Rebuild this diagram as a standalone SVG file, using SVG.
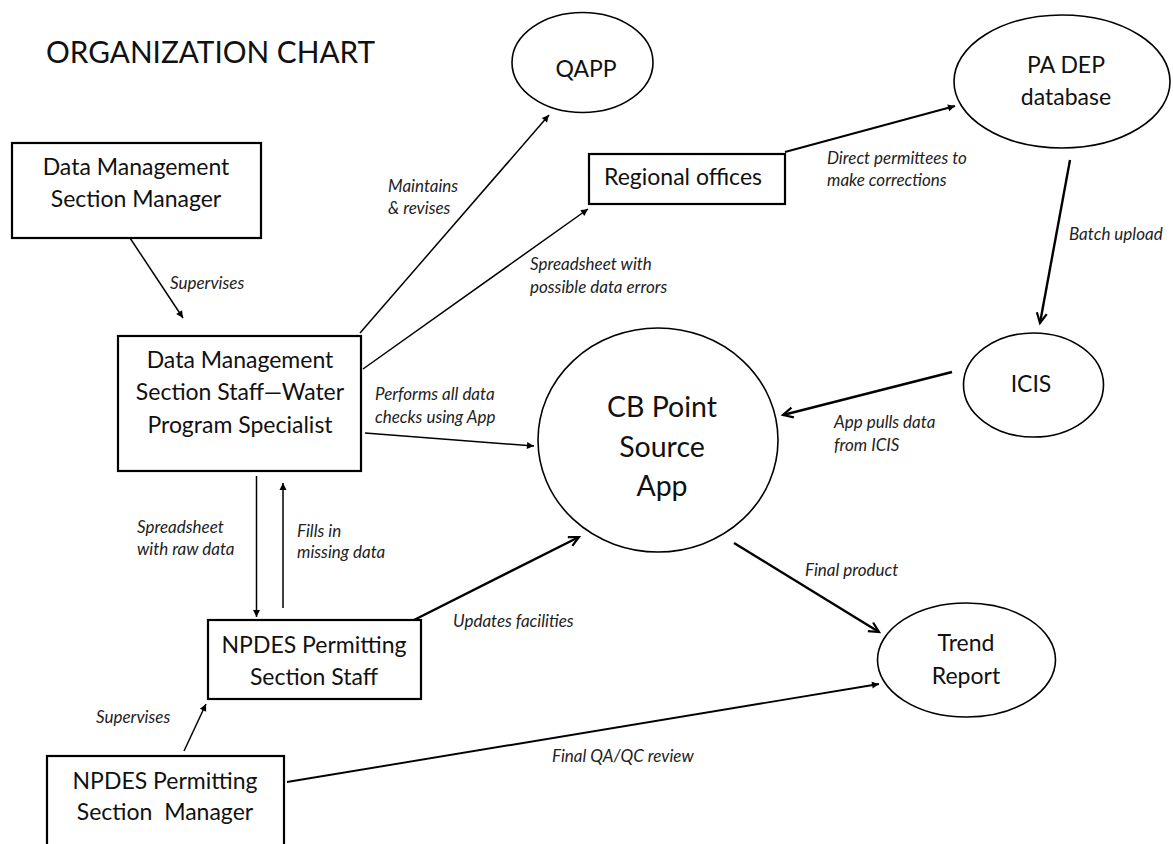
<svg xmlns="http://www.w3.org/2000/svg" width="1173" height="844" viewBox="0 0 1173 844">
<style>
  .bg { fill: #ffffff; }
  .box { fill: #ffffff; stroke: #000; stroke-width: 2.2; }
  .ell { fill: #ffffff; stroke: #000; stroke-width: 1.6; }
  .t { font-family: Lato, "Open Sans", "Liberation Sans", sans-serif; fill: #111; text-anchor: middle; }
  .node { font-size: 23px; }
  .big { font-size: 28.5px; }
  .title { font-family: Lato, "Open Sans", "Liberation Sans", sans-serif; font-size: 31px; fill: #111; }
  .lbl { font-family: Lato, "Open Sans", "Liberation Sans", sans-serif; font-size: 17px; font-style: italic; fill: #222; }
  .thin { stroke: #000; stroke-width: 1.5; fill: none; marker-end: url(#tri); }
  .mid { stroke: #000; stroke-width: 1.9; fill: none; marker-end: url(#tri); }
  .thick { stroke: #000; stroke-width: 2.4; fill: none; marker-end: url(#vee); }
</style>
<defs>
  <marker id="tri" markerUnits="userSpaceOnUse" markerWidth="8" markerHeight="8" refX="7" refY="3.5" orient="auto" overflow="visible">
    <path d="M0,0 L7,3.5 L0,7 z" fill="#000"/>
  </marker>
  <marker id="vee" markerUnits="userSpaceOnUse" markerWidth="12" markerHeight="12" refX="10" refY="5" orient="auto" overflow="visible">
    <path d="M0,0 L10,5 L0,10" fill="none" stroke="#000" stroke-width="2.2"/>
  </marker>
</defs>
<rect class="bg" x="0" y="0" width="1173" height="844"/>

<text class="title" x="46" y="63" textLength="329" lengthAdjust="spacingAndGlyphs">ORGANIZATION CHART</text>

<g id="connectors">
  <line class="thin" x1="130" y1="238" x2="183" y2="318"/>
  <line class="thin" x1="360" y1="333" x2="549" y2="115"/>
  <line class="thin" x1="363" y1="369" x2="588" y2="209"/>
  <line class="mid" x1="785" y1="152" x2="955" y2="106"/>
  <line class="thick" x1="1070" y1="160" x2="1040" y2="323"/>
  <line class="thin" x1="365" y1="433" x2="534" y2="446"/>
  <line class="thick" x1="952" y1="372" x2="783" y2="415"/>
  <line class="thin" x1="256.5" y1="476" x2="256.5" y2="617"/>
  <line class="thin" x1="283" y1="608" x2="283" y2="483"/>
  <line class="thick" x1="414" y1="620" x2="579" y2="537"/>
  <line class="thick" x1="734" y1="543" x2="879" y2="632"/>
  <line class="thin" x1="184" y1="751" x2="206" y2="704"/>
  <line class="mid" x1="287" y1="782" x2="879" y2="684"/>

  <text class="lbl" x="170" y="289">Supervises</text>
  <text class="lbl" x="388" y="192">Maintains</text>
  <text class="lbl" x="388" y="214">&amp; revises</text>
  <text class="lbl" x="530" y="270">Spreadsheet with</text>
  <text class="lbl" x="530" y="293">possible data errors</text>
  <text class="lbl" x="827" y="164">Direct permittees to</text>
  <text class="lbl" x="827" y="186">make corrections</text>
  <text class="lbl" x="1069" y="240">Batch upload</text>
  <text class="lbl" x="375" y="400">Performs all data</text>
  <text class="lbl" x="375" y="423">checks using App</text>
  <text class="lbl" x="834" y="428">App pulls data</text>
  <text class="lbl" x="834" y="451">from ICIS</text>
  <text class="lbl" x="137" y="533">Spreadsheet</text>
  <text class="lbl" x="137" y="555">with raw data</text>
  <text class="lbl" x="297" y="537">Fills in</text>
  <text class="lbl" x="297" y="558">missing data</text>
  <text class="lbl" x="805" y="576">Final product</text>
  <text class="lbl" x="453" y="627">Updates facilities</text>
  <text class="lbl" x="96" y="723">Supervises</text>
  <text class="lbl" x="552" y="762">Final QA/QC review</text>
</g>

<g id="dm-manager">
  <rect class="box" x="12" y="143" width="249" height="95"/>
  <text class="t node" x="136" y="175">Data Management</text>
  <text class="t node" x="136" y="207">Section Manager</text>
</g>

<g id="dm-staff">
  <rect class="box" x="118" y="336" width="243" height="135"/>
  <text class="t node" x="240" y="368">Data Management</text>
  <text class="t node" x="240" y="400">Section Staff—Water</text>
  <text class="t node" x="240" y="433">Program Specialist</text>
</g>

<g id="regional-offices">
  <rect class="box" x="589" y="154" width="196" height="50"/>
  <text class="t node" x="683" y="185">Regional offices</text>
</g>

<g id="npdes-staff">
  <rect class="box" x="208" y="620" width="213" height="79"/>
  <text class="t node" x="314" y="653">NPDES Permitting</text>
  <text class="t node" x="314" y="685">Section Staff</text>
</g>

<g id="npdes-manager">
  <rect class="box" x="47" y="756" width="237" height="120"/>
  <text class="t node" x="165" y="789">NPDES Permitting</text>
  <text class="t node" x="165" y="820" xml:space="preserve" style="white-space:pre">Section  Manager</text>
</g>

<g id="qapp">
  <ellipse class="ell" cx="582.5" cy="62.5" rx="70.5" ry="50"/>
  <text class="t node" x="586" y="77">QAPP</text>
</g>

<g id="pa-dep">
  <ellipse class="ell" cx="1062" cy="81.5" rx="108" ry="66.5"/>
  <text class="t node" x="1066" y="73">PA DEP</text>
  <text class="t node" x="1066" y="105">database</text>
</g>

<g id="icis">
  <ellipse class="ell" cx="1033.5" cy="385" rx="70" ry="52"/>
  <text class="t node" x="1031" y="392">ICIS</text>
</g>

<g id="cb-app">
  <ellipse class="ell" cx="658" cy="440" rx="120" ry="112"/>
  <text class="t big" x="662" y="417">CB Point</text>
  <text class="t big" x="662" y="457">Source</text>
  <text class="t big" x="662" y="496">App</text>
</g>

<g id="trend-report">
  <ellipse class="ell" cx="966.5" cy="660" rx="89" ry="57"/>
  <text class="t node" x="966" y="651">Trend</text>
  <text class="t node" x="966" y="684">Report</text>
</g>
</svg>
